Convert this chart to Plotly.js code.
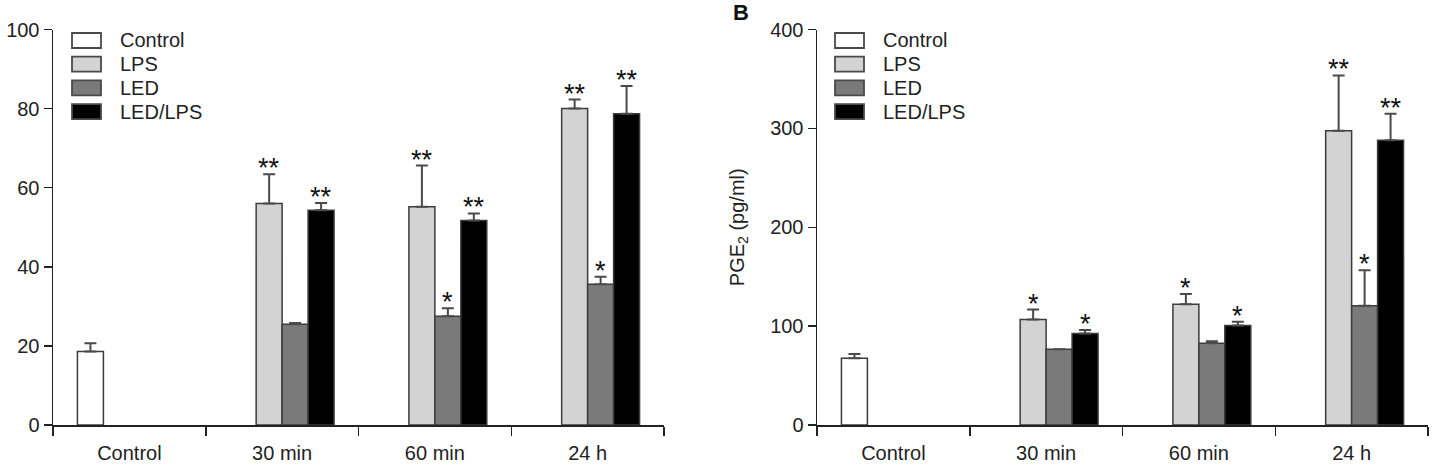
<!DOCTYPE html>
<html>
<head>
<meta charset="utf-8">
<script src="https://cdn.plot.ly/plotly-3.0.1.min.js"></script>
<style>
  html, body { margin: 0; padding: 0; background: #fff; }
  #chart { width: 1434px; height: 465px; }
</style>
</head>
<body>
<div id="chart"></div>
<script>
// Time points on the x axis (shared by both panels)
const categories = ['Control', '30 min', '60 min', '24 h'];
const groups = ['Control', 'LPS', 'LED', 'LED/LPS'];
const groupColors = ['#ffffff', '#d3d3d3', '#7a7a7a', '#000000'];

// Panel A (0-100 scale)
const aControl = [18.6, null, null, null];
const aLPS = [null, 56.0, 55.2, 80.0];
const aLED = [null, 25.5, 27.5, 35.6];
const aLEDLPS = [null, 54.3, 51.7, 78.7];
const aControlErr = [2.1, null, null, null];
const aLPSErr = [null, 7.4, 10.4, 2.3];
const aLEDErr = [null, 0.3, 2.0, 1.9];
const aLEDLPSErr = [null, 1.8, 1.8, 7.0];
const aLPSSig = ['', '**', '**', '**'];
const aLEDSig = ['', '', '*', '*'];
const aLEDLPSSig = ['', '**', '**', '**'];

// Panel B: PGE2 (pg/ml)
const bControl = [67.4, null, null, null];
const bLPS = [null, 106.7, 122.2, 297.6];
const bLED = [null, 76.5, 82.8, 120.5];
const bLEDLPS = [null, 92.6, 100.7, 287.9];
const bControlErr = [4.3, null, null, null];
const bLPSErr = [null, 10.0, 10.4, 56.0];
const bLEDErr = [null, 0, 2.0, 36.0];
const bLEDLPSErr = [null, 3.4, 3.7, 27.0];
const bLPSSig = ['', '*', '*', '**'];
const bLEDSig = ['', '', '', '*'];
const bLEDLPSSig = ['', '*', '*', '**'];

const W = 1434, H = 465;
const FONT = 'Liberation Sans, Arial, sans-serif';
const INK = '#222222';
const BARGAP = 0.32;
const SLOT = (1 - BARGAP) / groups.length;

const px = v => v / W;
const py = v => (H - v) / H;

function barTrace(name, idx, values, errs, xa, ya) {
  return {
    type: 'bar',
    name: name,
    x: categories,
    y: values,
    xaxis: xa,
    yaxis: ya,
    showlegend: false,
    marker: { color: groupColors[idx], line: { color: '#3c3c3c', width: 1.5 } },
    error_y: {
      type: 'data', symmetric: false,
      array: errs, arrayminus: errs.map(e => (e == null ? null : 0)),
      color: '#4a4a4a', thickness: 2, width: 6
    },
    hoverinfo: 'x+y+name'
  };
}

const traces = [
  barTrace('Control', 0, aControl, aControlErr, 'x', 'y'),
  barTrace('LPS', 1, aLPS, aLPSErr, 'x', 'y'),
  barTrace('LED', 2, aLED, aLEDErr, 'x', 'y'),
  barTrace('LED/LPS', 3, aLEDLPS, aLEDLPSErr, 'x', 'y'),
  barTrace('Control', 0, bControl, bControlErr, 'x2', 'y2'),
  barTrace('LPS', 1, bLPS, bLPSErr, 'x2', 'y2'),
  barTrace('LED', 2, bLED, bLEDErr, 'x2', 'y2'),
  barTrace('LED/LPS', 3, bLEDLPS, bLEDLPSErr, 'x2', 'y2')
];

// Significance marks above the error caps
const annotations = [];
function addStars(sig, values, errs, slot, xref, yref) {
  sig.forEach((s, i) => {
    if (!s) return;
    annotations.push({
      xref: xref, yref: yref,
      x: i + (slot - 1.5) * SLOT,
      y: values[i] + (errs[i] || 0),
      text: s, showarrow: false,
      xanchor: 'center', yanchor: 'bottom', yshift: -11,
      font: { family: FONT, size: 27, color: '#111' }
    });
  });
}
addStars(aLPSSig, aLPS, aLPSErr, 1, 'x', 'y');
addStars(aLEDSig, aLED, aLEDErr, 2, 'x', 'y');
addStars(aLEDLPSSig, aLEDLPS, aLEDLPSErr, 3, 'x', 'y');
addStars(bLPSSig, bLPS, bLPSErr, 1, 'x2', 'y2');
addStars(bLEDSig, bLED, bLEDErr, 2, 'x2', 'y2');
addStars(bLEDLPSSig, bLEDLPS, bLEDLPSErr, 3, 'x2', 'y2');

// Boxed legends drawn inside each panel
const shapes = [];
function addLegend(swatchLeft, textLeft) {
  groups.forEach((g, i) => {
    const top = 33 + i * 23.7;
    shapes.push({
      type: 'rect', xref: 'paper', yref: 'paper',
      x0: px(swatchLeft), x1: px(swatchLeft + 29),
      y0: py(top + 15), y1: py(top),
      fillcolor: groupColors[i],
      line: { color: '#4a4a4a', width: 1.8 }
    });
    annotations.push({
      xref: 'paper', yref: 'paper',
      x: px(textLeft), y: py(top + 7.5),
      xanchor: 'left', yanchor: 'middle',
      text: g, showarrow: false,
      font: { family: FONT, size: 20, color: INK }
    });
  });
}
addLegend(72, 118);
addLegend(835, 881);

annotations.push({
  xref: 'paper', yref: 'paper', x: px(731), y: py(13),
  xanchor: 'left', yanchor: 'middle', text: '<b>B</b>', showarrow: false,
  font: { family: FONT, size: 22, color: '#111' }
});

const xBase = {
  type: 'category',
  categoryorder: 'array', categoryarray: categories,
  tickson: 'boundaries', ticks: 'outside', ticklen: 9, tickwidth: 1.5, tickcolor: INK,
  ticklabelstandoff: 9,
  showline: true, linecolor: INK, linewidth: 1.5,
  showgrid: false, zeroline: false, fixedrange: true,
  tickfont: { family: FONT, size: 20, color: INK },
  automargin: false
};
const yBase = {
  ticks: 'outside', ticklen: 8, tickwidth: 1.5, tickcolor: INK,
  showline: true, linecolor: INK, linewidth: 1.5,
  showgrid: false, zeroline: false, fixedrange: true,
  tickfont: { family: FONT, size: 20, color: INK },
  automargin: false
};
const yDomain = [py(425), py(29.5)];

const layout = {
  width: W, height: H,
  margin: { l: 0, r: 0, t: 0, b: 0 },
  paper_bgcolor: '#ffffff', plot_bgcolor: '#ffffff',
  barmode: 'group', bargap: BARGAP, bargroupgap: 0,
  showlegend: false,
  font: { family: FONT, color: INK },
  xaxis: Object.assign({}, xBase, { domain: [px(53), px(664)], anchor: 'y' }),
  yaxis: Object.assign({}, yBase, { domain: yDomain, anchor: 'x', range: [0, 100], tick0: 0, dtick: 20 }),
  xaxis2: Object.assign({}, xBase, { domain: [px(817), px(1428)], anchor: 'y2' }),
  yaxis2: Object.assign({}, yBase, {
    domain: yDomain, anchor: 'x2', range: [0, 400], tick0: 0, dtick: 100,
    title: { text: 'PGE<sub>2</sub> (pg/ml)', standoff: 20, font: { family: FONT, size: 20, color: INK } }
  }),
  shapes: shapes,
  annotations: annotations
};

Plotly.newPlot('chart', traces, layout, { displayModeBar: false, staticPlot: true });
</script>
</body>
</html>
